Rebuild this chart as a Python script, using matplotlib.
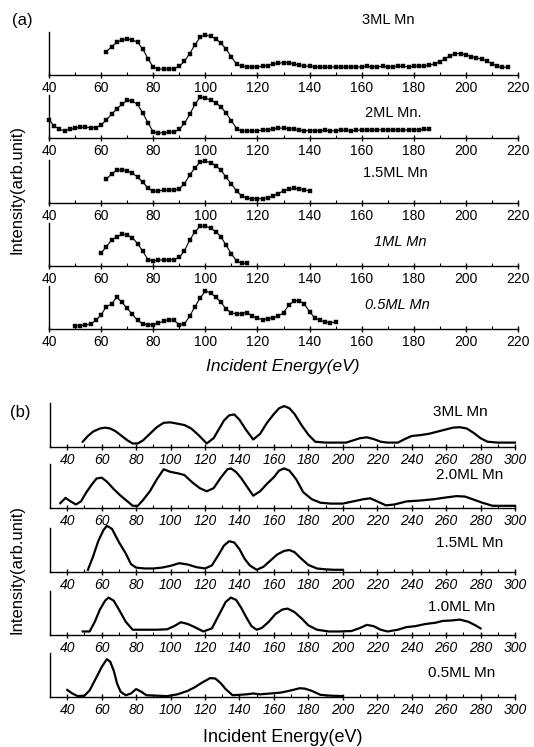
import numpy as np
import matplotlib.pyplot as plt
from matplotlib.ticker import MultipleLocator

plt.rcParams['font.family'] = ['Liberation Sans', 'DejaVu Sans']

# ---- panel (a): measured points, energy (eV) / intensity (arb.)
a_3ml_e = [62, 64, 66, 68, 70, 72, 74, 76, 78, 80, 82, 84, 86, 88, 90, 92, 94, 96, 98, 100,
           102, 104, 106, 108, 110, 112, 114, 116, 118, 120, 122, 124, 126, 128, 130, 132, 134, 136, 138, 140,
           142, 144, 146, 148, 150, 152, 154, 156, 158, 160, 162, 164, 166, 168, 170, 172, 174, 176, 178, 180,
           182, 184, 186, 188, 190, 192, 194, 196, 198, 200, 202, 204, 206, 208, 210, 212, 214, 216]
a_3ml_i = [0.54, 0.66, 0.76, 0.81, 0.83, 0.82, 0.76, 0.60, 0.38, 0.18, 0.14, 0.14, 0.14, 0.15, 0.20, 0.32, 0.50, 0.70, 0.88, 0.93,
           0.90, 0.84, 0.74, 0.60, 0.42, 0.25, 0.20, 0.19, 0.19, 0.19, 0.20, 0.22, 0.25, 0.27, 0.29, 0.28, 0.26, 0.23, 0.21, 0.20,
           0.19, 0.18, 0.18, 0.19, 0.18, 0.18, 0.19, 0.19, 0.18, 0.19, 0.20, 0.19, 0.19, 0.20, 0.19, 0.19, 0.20, 0.20, 0.19, 0.20,
           0.21, 0.21, 0.23, 0.26, 0.31, 0.38, 0.45, 0.50, 0.50, 0.47, 0.43, 0.40, 0.37, 0.33, 0.26, 0.20, 0.18, 0.18]

a_2ml_e = [40, 42, 44, 46, 48, 50, 52, 54, 56, 58, 60, 62, 64, 66, 68, 70, 72, 74, 76, 78,
           80, 82, 84, 86, 88, 90, 92, 94, 96, 98, 100, 102, 104, 106, 108, 110, 112, 114, 116, 118,
           120, 122, 124, 126, 128, 130, 132, 134, 136, 138, 140, 142, 144, 146, 148, 150, 152, 154, 156, 158,
           160, 162, 164, 166, 168, 170, 172, 174, 176, 178, 180, 182, 184, 186]
a_2ml_i = [0.42, 0.28, 0.20, 0.17, 0.20, 0.23, 0.25, 0.25, 0.24, 0.24, 0.30, 0.42, 0.55, 0.68, 0.78, 0.88, 0.86, 0.78, 0.58, 0.35,
           0.14, 0.12, 0.12, 0.13, 0.14, 0.20, 0.34, 0.55, 0.78, 0.95, 0.93, 0.88, 0.82, 0.72, 0.58, 0.40, 0.22, 0.16, 0.16, 0.16,
           0.17, 0.18, 0.19, 0.21, 0.23, 0.23, 0.22, 0.20, 0.18, 0.17, 0.17, 0.17, 0.17, 0.18, 0.17, 0.17, 0.18, 0.18, 0.17, 0.18,
           0.19, 0.18, 0.18, 0.19, 0.19, 0.18, 0.19, 0.19, 0.18, 0.19, 0.19, 0.19, 0.20, 0.20]

a_15ml_e = [62, 64, 66, 68, 70, 72, 74, 76, 78, 80, 82, 84, 86, 88, 90, 92, 94, 96, 98, 100,
            102, 104, 106, 108, 110, 112, 114, 116, 118, 120, 122, 124, 126, 128, 130, 132, 134, 136, 138, 140]
a_15ml_i = [0.55, 0.68, 0.76, 0.77, 0.75, 0.70, 0.60, 0.48, 0.35, 0.27, 0.28, 0.30, 0.30, 0.30, 0.33, 0.45, 0.65, 0.82, 0.95, 0.97,
            0.94, 0.87, 0.76, 0.60, 0.44, 0.28, 0.16, 0.11, 0.10, 0.10, 0.10, 0.12, 0.16, 0.22, 0.28, 0.32, 0.34, 0.33, 0.31, 0.28]

a_1ml_e = [60, 62, 64, 66, 68, 70, 72, 74, 76, 78, 80, 82, 84, 86, 88, 90, 92, 94, 96, 98,
           100, 102, 104, 106, 108, 110, 112, 114, 116]
a_1ml_i = [0.30, 0.45, 0.60, 0.68, 0.74, 0.72, 0.66, 0.52, 0.34, 0.15, 0.12, 0.14, 0.14, 0.15, 0.15, 0.20, 0.36, 0.60, 0.80, 0.92,
           0.93, 0.88, 0.80, 0.68, 0.48, 0.28, 0.12, 0.06, 0.06]

a_05ml_e = [50, 52, 54, 56, 58, 60, 62, 64, 66, 68, 70, 72, 74, 76, 78, 80, 82, 84, 86, 88,
            90, 92, 94, 96, 98, 100, 102, 104, 106, 108, 110, 112, 114, 116, 118, 120, 122, 124, 126, 128,
            130, 132, 134, 136, 138, 140, 142, 144, 146, 148, 150]
a_05ml_i = [0.07, 0.08, 0.09, 0.12, 0.20, 0.33, 0.52, 0.58, 0.74, 0.62, 0.48, 0.34, 0.20, 0.12, 0.10, 0.10, 0.14, 0.18, 0.22, 0.20,
            0.10, 0.12, 0.30, 0.52, 0.72, 0.88, 0.84, 0.74, 0.62, 0.46, 0.38, 0.35, 0.36, 0.38, 0.30, 0.25, 0.22, 0.24, 0.26, 0.30,
            0.38, 0.55, 0.65, 0.66, 0.58, 0.40, 0.26, 0.20, 0.16, 0.15, 0.16]

a_series = [(a_3ml_e, a_3ml_i), (a_2ml_e, a_2ml_i), (a_15ml_e, a_15ml_i), (a_1ml_e, a_1ml_i), (a_05ml_e, a_05ml_i)]
a_labels = ['3ML Mn', '2ML Mn.', '1.5ML Mn', '1ML Mn', '0.5ML Mn']

# ---- panel (b): continuous curves, (energy, intensity) pairs
b_3ml = [(49, .12), (52, .25), (55, .35), (59, .42), (62, .44), (65, .42), (68, .36), (71, .27), (75, .15), (78, .08),
         (81, .08), (84, .15), (88, .30), (92, .45), (96, .55), (100, .56), (104, .53), (108, .50), (112, .42), (116, .28),
         (121, .08), (125, .20), (128, .40), (131, .60), (134, .72), (137, .74), (140, .62), (144, .38), (148, .17), (152, .30),
         (156, .55), (160, .75), (163, .88), (166, .93), (169, .88), (172, .75), (176, .50), (180, .28), (184, .12), (190, .10),
         (196, .10), (202, .10), (206, .15), (210, .20), (214, .22), (218, .18), (222, .12), (226, .10), (232, .10), (236, .18),
         (240, .25), (245, .27), (250, .30), (255, .35), (260, .40), (264, .44), (268, .45), (272, .42), (276, .32), (280, .20),
         (284, .12), (290, .10), (300, .10)]
b_2ml = [(36, .11), (39, .23), (42, .15), (45, .08), (48, .15), (51, .35), (54, .52), (57, .67), (60, .69), (63, .60),
         (67, .43), (71, .28), (75, .15), (78, .05), (81, .05), (84, .18), (88, .38), (92, .65), (96, .88), (100, .82),
         (104, .79), (108, .75), (113, .57), (117, .45), (121, .38), (125, .45), (129, .68), (133, .88), (135, .90), (138, .82),
         (141, .68), (145, .45), (148, .28), (152, .38), (156, .55), (160, .70), (163, .85), (166, .90), (169, .85), (173, .65),
         (177, .36), (182, .20), (187, .12), (193, .10), (200, .10), (206, .15), (212, .20), (216, .22), (220, .15), (225, .06),
         (230, .08), (237, .15), (245, .17), (253, .20), (260, .24), (266, .27), (271, .26), (276, .19), (281, .12), (287, .05),
         (293, .05), (300, .05)]
b_15ml = [(52, .05), (55, .35), (58, .70), (61, .95), (63, 1.05), (66, .98), (70, .68), (74, .42), (77, .18), (80, .10),
          (85, .08), (90, .08), (95, .10), (100, .14), (105, .20), (110, .17), (115, .11), (120, .08), (124, .15), (128, .40),
          (131, .60), (134, .70), (137, .67), (140, .52), (143, .30), (146, .15), (150, .05), (154, .12), (158, .26), (162, .40),
          (166, .48), (169, .50), (172, .45), (176, .30), (180, .16), (185, .08), (190, .06), (195, .05), (200, .05)]
b_1ml = [(49, .08), (53, .08), (56, .30), (59, .58), (62, .78), (64, .85), (67, .78), (70, .58), (74, .30), (78, .12),
         (84, .12), (92, .12), (98, .13), (102, .20), (106, .29), (110, .25), (114, .18), (119, .08), (124, .15), (128, .45),
         (132, .75), (135, .85), (138, .80), (141, .62), (144, .40), (147, .20), (150, .12), (153, .16), (157, .30), (161, .48),
         (165, .58), (168, .60), (172, .52), (176, .38), (180, .22), (185, .12), (192, .08), (198, .08), (205, .09), (210, .16),
         (214, .23), (218, .20), (222, .12), (226, .08), (232, .12), (237, .18), (242, .20), (248, .25), (254, .28), (258, .32),
         (263, .33), (268, .35), (273, .30), (277, .22), (280, .15)]
b_05ml = [(40, .16), (43, .08), (46, .02), (50, .03), (53, .15), (57, .45), (60, .68), (63, .86), (65, .80), (67, .60),
          (69, .30), (71, .12), (74, .04), (77, .08), (80, .18), (83, .12), (86, .04), (92, .03), (98, .02), (104, .06),
          (110, .14), (114, .22), (118, .32), (123, .43), (126, .42), (129, .32), (132, .18), (136, .04), (140, .05), (144, .06),
          (148, .08), (152, .06), (158, .08), (164, .10), (170, .15), (175, .20), (178, .19), (182, .14), (187, .05), (193, .03),
          (200, .02)]

b_series = [b_3ml, b_2ml, b_15ml, b_1ml, b_05ml]
b_labels = ['3ML Mn', '2.0ML Mn', '1.5ML Mn', '1.0ML Mn', '0.5ML Mn']

W, H = 534, 747
fig = plt.figure(figsize=(W / 100, H / 100), dpi=100)


def fx(x):
    return x / W


def fy(y):
    return 1 - y / H


def style_axis(ax, xmin, xmax, italic=False):
    ax.set_xlim(xmin, xmax)
    ax.set_ylim(0, 1)
    for s in ['top', 'right']:
        ax.spines[s].set_visible(False)
    ax.spines['left'].set_linewidth(1.0)
    ax.spines['bottom'].set_linewidth(1.0)
    ax.set_yticks([])
    ax.xaxis.set_major_locator(MultipleLocator(20))
    ax.xaxis.set_minor_locator(MultipleLocator(10))
    ax.tick_params(axis='x', which='major', direction='inout', length=5, width=1, labelsize=10, pad=2)
    ax.tick_params(axis='x', which='minor', direction='in', length=2.5, width=0.8)
    if italic:
        for t in ax.get_xticklabels():
            t.set_fontstyle('italic')
    ax.patch.set_alpha(0)


# panel (a)
a_bottoms = [75, 138, 203, 266, 329]
a_label_pos = [(388, 20), (393, 113), (395, 173), (400, 242), (397, 305)]
for k, ((e, i), lab) in enumerate(zip(a_series, a_labels)):
    ax = fig.add_axes([fx(49), fy(a_bottoms[k]), fx(518) - fx(49), 43 / H])
    ax.plot(e, i, '-s', color='black', lw=0.8, ms=2.5, mew=0.3, clip_on=False)
    ax.set_xticks(np.arange(40, 221, 20))
    style_axis(ax, 40, 220)
    fig.text(fx(a_label_pos[k][0]), fy(a_label_pos[k][1]), lab, ha='center', va='center',
             fontsize=10.5, style='italic' if k >= 3 else 'normal')

fig.text(fx(22), fy(20), '(a)', ha='center', va='center', fontsize=12)
fig.text(fx(17), fy(190), 'Intensity(arb.unit)', rotation=90, ha='center', va='center', fontsize=12)
fig.text(fx(283), fy(366), 'Incident Energy(eV)', ha='center', va='center', fontsize=12.5, style='italic')

# panel (b)
b_bottoms = [447, 508, 572, 635, 697]
b_label_pos = [(460, 412), (470, 475), (470, 543), (462, 607), (462, 673)]
for k, (pts, lab) in enumerate(zip(b_series, b_labels)):
    ax = fig.add_axes([fx(50), fy(b_bottoms[k]), fx(515) - fx(50), 44 / H])
    e = [p[0] for p in pts]
    i = [p[1] for p in pts]
    ax.plot(e, i, '-', color='black', lw=1.6, clip_on=False, solid_joinstyle='round')
    ax.set_xticks(np.arange(40, 301, 20))
    style_axis(ax, 30, 300, italic=True)
    fig.text(fx(b_label_pos[k][0]), fy(b_label_pos[k][1]), lab, ha='center', va='center', fontsize=11)

fig.text(fx(20), fy(412), '(b)', ha='center', va='center', fontsize=12)
fig.text(fx(17), fy(570), 'Intensity(arb.unit)', rotation=90, ha='center', va='center', fontsize=12)
fig.text(fx(283), fy(738), 'Incident Energy(eV)', ha='center', va='center', fontsize=13)

fig.savefig('out.png', dpi=100)
